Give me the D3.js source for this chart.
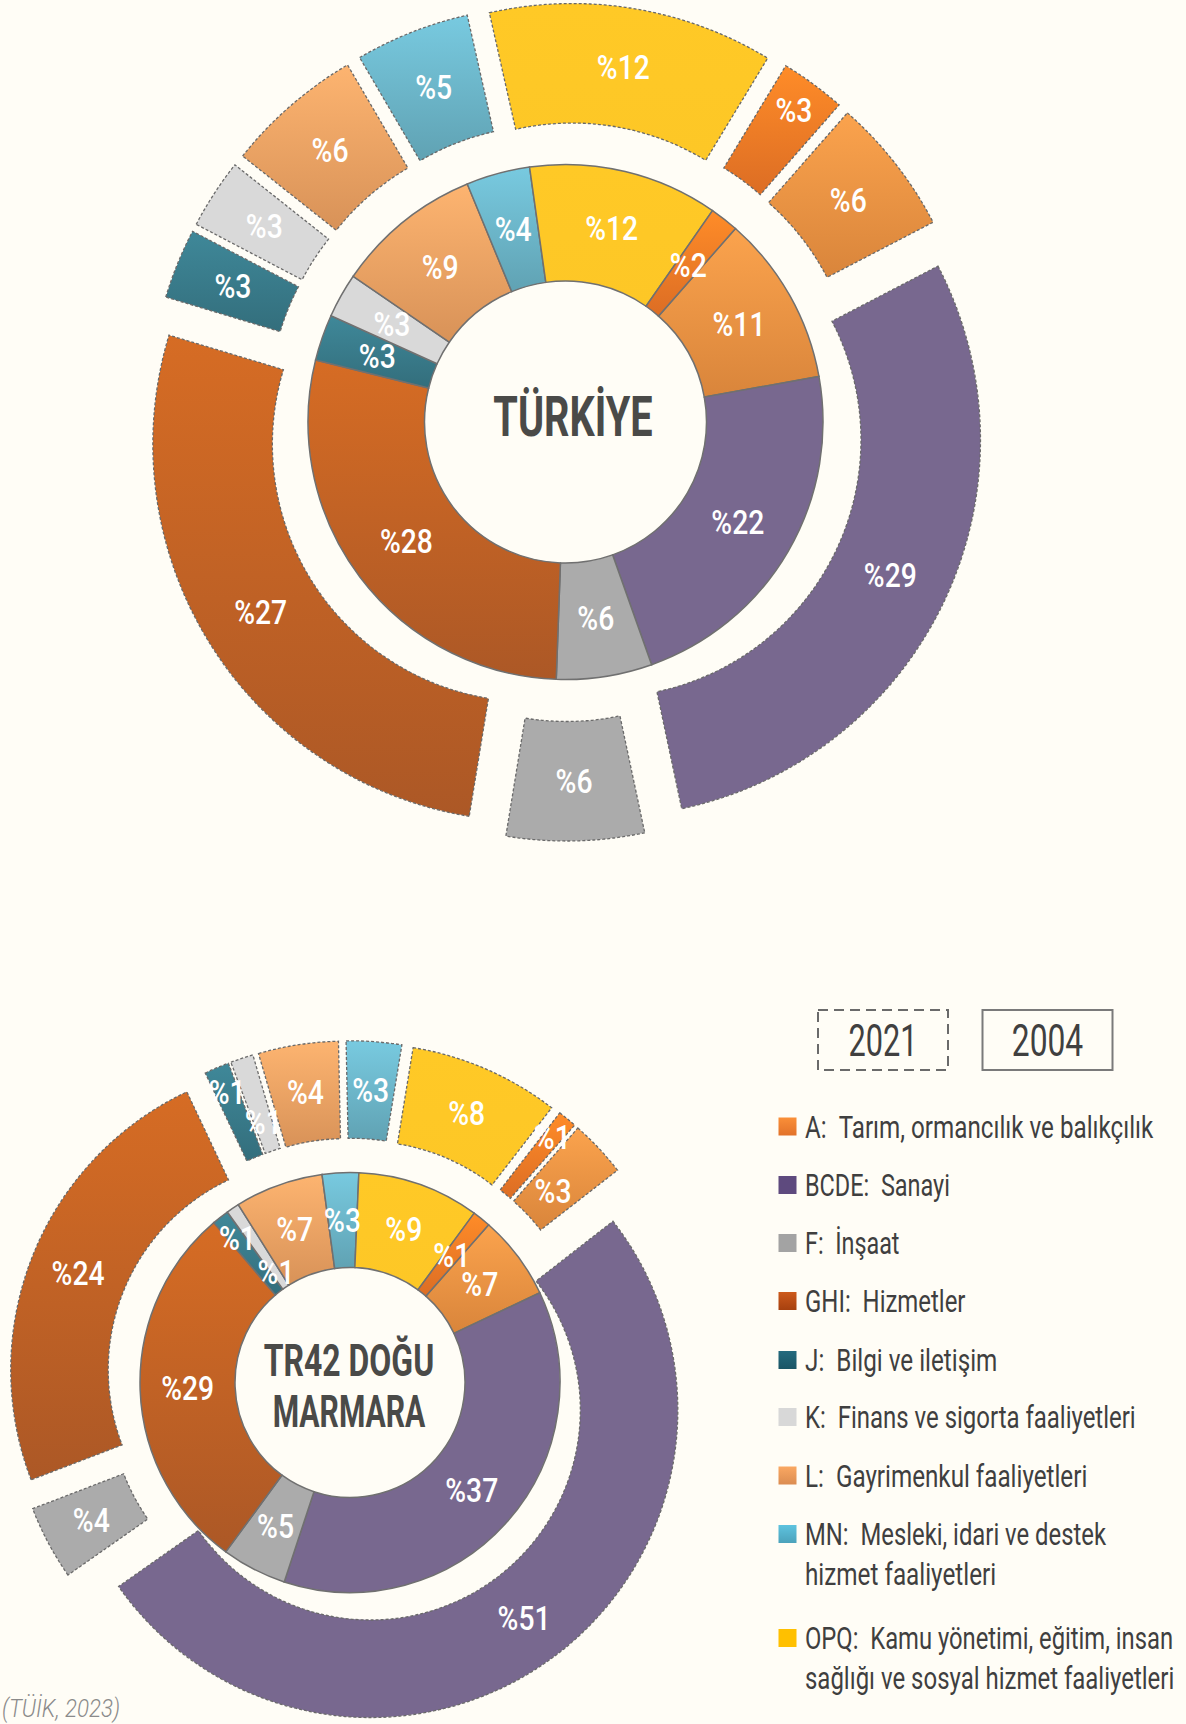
<!DOCTYPE html>
<html><head><meta charset="utf-8">
<script src="https://cdn.jsdelivr.net/npm/d3@7"></script>
<style>
html,body{margin:0;padding:0;background:#FFFDF6;}
svg{display:block;}
</style></head><body>
<svg id="chart" width="1186" height="1724"></svg>
<script>
// ---------- DATA ----------
const categories = ["A","BCDE","F","GHI","J","K","L","MN","OPQ","RSTU"];
const turkiye2004 = [10.7, 22.4, 6.0, 28.3, 2.9, 2.8, 9.2, 4.0, 11.9, 1.8];
const turkiye2021 = [5.9, 29.3, 5.9, 27.1, 3.0, 3.0, 5.9, 4.9, 12.2, 2.8];
const tr42_2004   = [6.5, 37.1, 5.0, 28.7, 1.3, 1.0, 6.8, 2.8, 9.4, 1.4];
const tr42_2021   = [3.0, 50.8, 3.9, 23.8, 1.3, 1.2, 4.2, 2.9, 7.9, 1.0];
const legendCodes = ["A","BCDE","F","GHI","J","K","L","MN","OPQ"];
const legendNames = [
  ["Tarım, ormancılık ve balıkçılık"],
  ["Sanayi"],
  ["İnşaat"],
  ["Hizmetler"],
  ["Bilgi ve iletişim"],
  ["Finans ve sigorta faaliyetleri"],
  ["Gayrimenkul faaliyetleri"],
  ["Mesleki, idari ve destek","hizmet faaliyetleri"],
  ["Kamu yönetimi, eğitim, insan","sağlığı ve sosyal hizmet faaliyetleri"]
];
const yearLabels = ["2021","2004"];
const chartTitles = [["TÜRKİYE"],["TR42 DOĞU","MARMARA"]];
const sourceText = "(TÜİK, 2023)";

// ---------- STYLE ----------
const fills = {
  A:["#FBA34D","#D9853B"], BCDE:["#78688F","#78688F"], F:["#ABABAB","#ABABAB"],
  GHI:["#D66C24","#AC5826"], J:["#3F8899","#336E7C"], K:["#D9D9D9","#D9D9D9"],
  L:["#FDB470","#D89258"], MN:["#78CAE0","#60A2B3"], OPQ:["#FFC926","#FDC726"],
  RSTU:["#FF8C28","#DC6D24"]
};
const legendFills = {
  A:["#FA8F38","#E2722A"], BCDE:["#5E4A7E","#5E4A7E"], F:["#A3A3A3","#A3A3A3"],
  GHI:["#CD5A1B","#A6400F"], J:["#246A7E","#1A5565"], K:["#D8D8D8","#D8D8D8"],
  L:["#FAA862","#DB8C51"], MN:["#5EC3DF","#4BA2BB"], OPQ:["#FFC000","#FFC000"]
};
const FONT = "Roboto, 'Liberation Sans', sans-serif";
const CAP = 0.711;
const START = 41.3 * Math.PI / 180;
const HOLE = 141, MID = 257.5, OUTER = 377, EXPLODE = 42;

const layout = [
  {cx:565.5, cy:422, s:1, v04:turkiye2004, v21:turkiye2021, title:chartTitles[0],
   tx:573, tBase:[436], tCap:39, tW:[159.4], n04:{}, n21:{RSTU:27}},
  {cx:350, cy:1382.5, s:0.8155, v04:tr42_2004, v21:tr42_2021, title:chartTitles[1],
   tx:349, tBase:[1375.5,1427], tCap:31, tW:[170.4,152.8], n04:{J:20,K:-30}, n21:{J:22,K:-19,RSTU:25,A:-14}}
];

const svg = d3.select("#chart");
svg.append("rect").attr("width",1186).attr("height",1724).attr("fill","#FFFDF6");
const defs = svg.append("defs");
function grad(id, c){
  const lg = defs.append("linearGradient").attr("id",id).attr("x1",0).attr("y1",0).attr("x2",0).attr("y2",1);
  lg.append("stop").attr("offset","0%").attr("stop-color",c[0]);
  lg.append("stop").attr("offset","100%").attr("stop-color",c[1]);
}
categories.forEach(k => grad("g_"+k, fills[k]));
legendCodes.forEach(k => grad("lg_"+k, legendFills[k]));

// condensed-looking text: fit width with font size, then stretch vertically to cap height
function condText(parent, str, o){
  const t = parent.append("text").text(str)
    .attr("text-anchor", o.anchor || "middle").attr("fill", o.fill)
    .style("font-family", FONT).style("font-weight", o.weight || 400)
    .style("font-style", o.style || "normal").style("font-size","100px");
  const nat = t.node().getComputedTextLength();
  const f = 100 * o.w / nat;
  t.style("font-size", f + "px");
  const k = o.cap / (f * CAP);
  t.attr("transform", `translate(${o.x},${o.y}) scale(1,${k})`);
  return t;
}

function drawChart(c){
  const g = svg.append("g").attr("transform",`translate(${c.cx},${c.cy})`);
  const pie = d3.pie().sort(null).value(d=>d.v).startAngle(START).endAngle(START+2*Math.PI);
  const rings = [
    {vals:c.v04, r0:HOLE*c.s, r1:MID*c.s, ex:0, dashed:false, nudge:c.n04},
    {vals:c.v21, r0:MID*c.s, r1:OUTER*c.s, ex:EXPLODE*c.s, dashed:true, nudge:c.n21}
  ];
  const labels = [];
  rings.forEach(ring => {
    const arc = d3.arc().innerRadius(ring.r0).outerRadius(ring.r1);
    const arcs = pie(categories.map((k,i)=>({k, v:ring.vals[i]})));
    const rg = g.append("g");
    arcs.forEach(a => {
      const mid = (a.startAngle + a.endAngle)/2;
      const dx = ring.ex*Math.sin(mid), dy = -ring.ex*Math.cos(mid);
      rg.append("path")
        .attr("d", arc(a))
        .attr("transform",`translate(${dx},${dy})`)
        .attr("fill","url(#g_"+a.data.k+")")
        .attr("stroke", ring.dashed ? "#6A6A6A" : "#707070")
        .attr("stroke-width", ring.dashed ? 1.3 : 1.5)
        .attr("stroke-dasharray", ring.dashed ? "3 2" : null);
      const rr = (ring.r0+ring.r1)/2 + ring.ex + (ring.nudge[a.data.k]||0);
      labels.push({x: rr*Math.sin(mid), y: -rr*Math.cos(mid), t:"%"+Math.round(a.data.v)});
    });
  });
  const lg = g.append("g");
  labels.forEach(d => {
    const digits = d.t.length - 1;
    condText(lg, d.t, {x:d.x, y:d.y + 11.5, w:21 + 16*digits, cap:23, fill:"#FFFFFF", weight:500});
  });
  c.title.forEach((t,i)=>{
    condText(svg, t, {x:c.tx, y:c.tBase[i], w:c.tW[i], cap:c.tCap, fill:"#4A4A48", weight:700});
  });
}
layout.forEach(drawChart);

// ---------- LEGEND ----------
const yearBoxes = [{x:818, y:1010, w:130, h:60, dashed:true, tw:69},{x:982.5, y:1010, w:130, h:60, dashed:false, tw:71.5}];
yearBoxes.forEach((b,i)=>{
  svg.append("rect").attr("x",b.x).attr("y",b.y).attr("width",b.w).attr("height",b.h)
    .attr("fill","none").attr("stroke", b.dashed?"#6A6A6A":"#7A7A7A").attr("stroke-width",2)
    .attr("stroke-dasharray", b.dashed?"10 6":null);
  condText(svg, yearLabels[i], {x:b.x+b.w/2, y:1056, w:b.tw, cap:31, fill:"#404040", weight:400});
});
const rowY = [1126.5,1185,1243,1301,1360,1417,1475.5,1534,1638];
const lineW = [[348.5],[145],[94.5],[160.5],[192.4],[330.9],[282.5],[301.2,191.3],[368.3,369.4]];
legendCodes.forEach((k,i)=>{
  svg.append("rect").attr("x",778.5).attr("y",rowY[i]-9).attr("width",18).attr("height",18)
    .attr("fill","url(#lg_"+k+")");
  legendNames[i].forEach((line,j)=>{
    const txt = j===0 ? k+":\u00A0\u00A0"+line : line;
    condText(svg, txt, {x:805, y:rowY[i]+11+j*40, w:lineW[i][j], cap:22, fill:"#3F3F3F", anchor:"start", weight:400});
  });
});
condText(svg, sourceText, {x:2, y:1717, w:118, cap:18, fill:"#8A8A8A", anchor:"start", weight:300, style:"italic"});
</script>
</body></html>
